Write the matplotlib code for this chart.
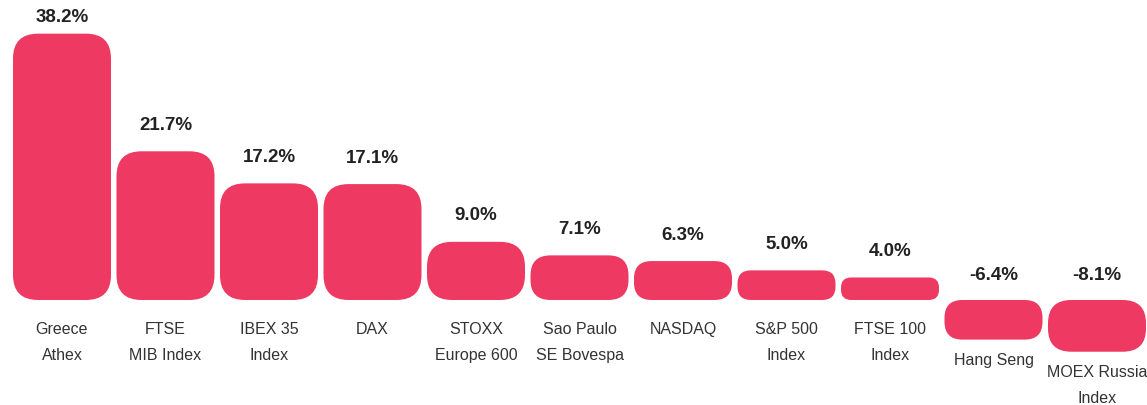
import numpy as np
from matplotlib import pyplot as plt
from matplotlib.patches import FancyBboxPatch

labels = ["Greece\nAthex", "FTSE\nMIB Index", "IBEX 35\nIndex", "DAX",
          "STOXX\nEurope 600", "Sao Paulo\nSE Bovespa", "NASDAQ",
          "S&P 500\nIndex", "FTSE 100\nIndex", "Hang Seng", "MOEX Russia\nIndex"]
values = [38.2, 21.7, 17.2, 17.1, 9.0, 7.1, 6.3, 5.0, 4.0, -6.4, -8.1]

bar_color = '#EE3A63'
W, H = 1147, 406
plt.rcParams['font.family'] = ['Liberation Sans', 'DejaVu Sans']

fig = plt.figure(figsize=(W / 100, H / 100), dpi=100)
ax = fig.add_axes([0, 0, 1, 1])
ax.set_xlim(-0.599, 10.483)
ax.set_ylim(-14.73, 42.22)
ax.axis('off')

# pixels per data unit
px_x = W / (ax.get_xlim()[1] - ax.get_xlim()[0])
px_y = H / (ax.get_ylim()[1] - ax.get_ylim()[0])
inset = 6 / px_y          # small gap at the bar end
width = 0.947
top_px = ax.get_ylim()[1] * px_y   # baseline distance from top edge

for i, v in enumerate(values):
    sign = 1 if v >= 0 else -1
    h = v - sign * inset
    h_px = abs(h) * px_y
    r_px = min(25, 0.45 * h_px)
    y0 = min(0, h)
    box = FancyBboxPatch((i - width / 2, y0), width, abs(h),
                         boxstyle=f"round,pad=0,rounding_size={r_px / px_x}",
                         mutation_aspect=px_x / px_y,
                         facecolor=bar_color, edgecolor='none')
    ax.add_patch(box)

    if v >= 0:
        # keep the label inside the figure
        off = min(27, top_px - h_px - 17)
        ax.annotate(f"{v:.1f}%", (i, h), xytext=(0, off), textcoords='offset pixels',
                    ha='center', va='center', fontsize=13.5, fontweight='bold', color='#222222')
        ax.annotate(labels[i], (i, 0), xytext=(0, -21), textcoords='offset pixels',
                    ha='center', va='top', fontsize=11.5, color='#333333', linespacing=1.9)
    else:
        ax.annotate(f"{v:.1f}%", (i, 0), xytext=(0, 25), textcoords='offset pixels',
                    ha='center', va='center', fontsize=13.5, fontweight='bold', color='#222222')
        ax.annotate(labels[i], (i, h), xytext=(0, -12), textcoords='offset pixels',
                    ha='center', va='top', fontsize=11.5, color='#333333', linespacing=1.9)

fig.savefig('out.png', dpi=100)
